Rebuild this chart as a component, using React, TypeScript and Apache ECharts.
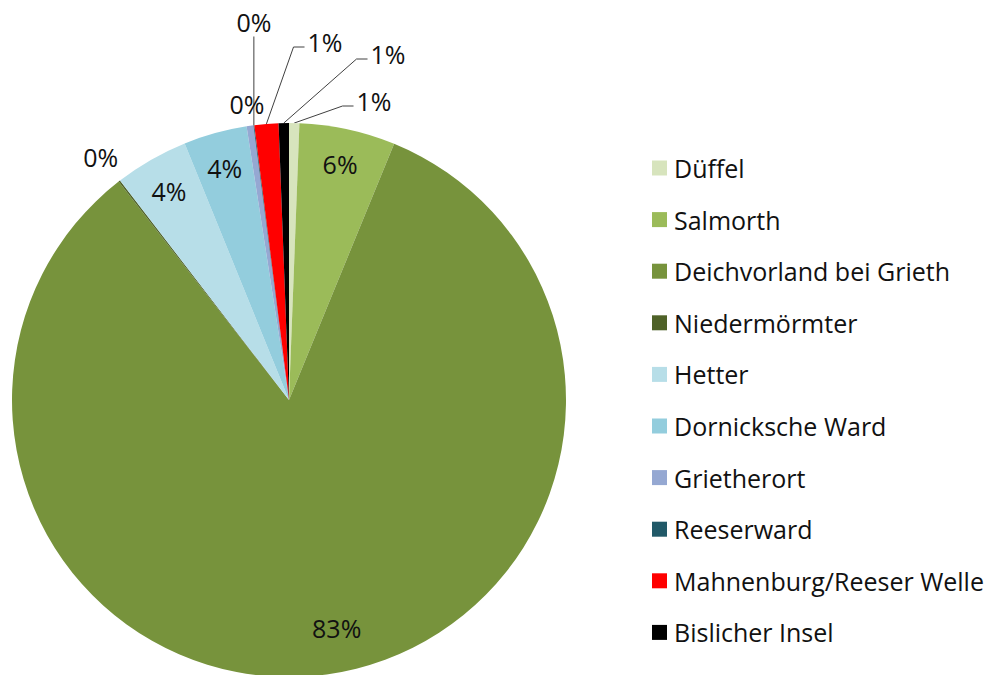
import React, { useEffect, useRef } from "react";
import * as echarts from "echarts";

const categories = [
  "Düffel",
  "Salmorth",
  "Deichvorland bei Grieth",
  "Niedermörmter",
  "Hetter",
  "Dornicksche Ward",
  "Grietherort",
  "Reeserward",
  "Mahnenburg/Reeser Welle",
  "Bislicher Insel",
];
const shares = [0.6, 5.6, 83.3, 0.1, 4.3, 3.7, 0.4, 0.05, 1.4, 0.6];
const colors = [
  "#d7e4bd",
  "#9bbb59",
  "#77933c",
  "#4f6228",
  "#b7dee8",
  "#93cddd",
  "#95a8d2",
  "#215968",
  "#ff0000",
  "#000000",
];

// label placement rules (layout, not data)
type Place =
  | { mode: "in"; f: number; da?: number }
  | { mode: "out"; f: number }
  | { mode: "lead"; dx: number; dy: number; vertical?: boolean };
const placement: Place[] = [
  { mode: "lead", dx: 85, dy: -299 },
  { mode: "in", f: 0.87 },
  { mode: "in", f: 0.84, da: -4 },
  { mode: "out", f: 1.11 },
  { mode: "in", f: 0.87 },
  { mode: "in", f: 0.87 },
  { mode: "out", f: 1.08 },
  { mode: "lead", dx: -35, dy: -378, vertical: true },
  { mode: "lead", dx: 36, dy: -358 },
  { mode: "lead", dx: 99, dy: -346 },
];

const CX = 289;
const CY = 400;
const R = 277;
const FONT = "Open Sans";

export default function App() {
  const ref = useRef<HTMLDivElement>(null);
  useEffect(() => {
    if (!ref.current) return;
    const chart = echarts.init(ref.current, undefined, { renderer: "svg" });
    const total = shares.reduce((a, b) => a + b, 0);
    const mids: number[] = [];
    let acc = 0;
    shares.forEach((v) => {
      mids.push(((acc + v / 2) / total) * 360);
      acc += v;
    });
    const pt = (angDeg: number, rad: number) => {
      const a = (angDeg * Math.PI) / 180;
      return [CX + rad * Math.sin(a), CY - rad * Math.cos(a)];
    };

    chart.setOption({
      animation: false,
      backgroundColor: "#ffffff",
      color: colors,
      legend: {
        orient: "vertical",
        left: 652,
        top: 155.5,
        padding: 0,
        itemWidth: 15,
        itemHeight: 15,
        itemGap: 26.6,
        icon: "rect",
        data: categories,
        textStyle: {
          fontFamily: FONT,
          fontSize: 25,
          color: "#111111",
          lineHeight: 24,
          padding: [0, 0, 0, 2],
        },
      },
      series: [
        {
          type: "pie",
          center: [CX, CY],
          radius: R,
          startAngle: 90,
          clockwise: true,
          avoidLabelOverlap: false,
          minShowLabelAngle: 0,
          itemStyle: { borderWidth: 0 },
          emphasis: { disabled: true },
          label: {
            show: true,
            position: "outside",
            fontFamily: FONT,
            fontSize: 25,
            color: "#111111",
            formatter: (p: any) => Math.round(p.percent) + "%",
          },
          labelLine: {
            show: true,
            lineStyle: { color: "#404040", width: 1 },
          },
          labelLayout: (params: any) => {
            const i = params.dataIndex;
            const pl = placement[i];
            const w = params.labelRect.width;
            const h = params.labelRect.height;
            if (pl.mode === "in") {
              const [x, y] = pt(mids[i] + (pl.da || 0), R * pl.f);
              return { x, y, align: "center", verticalAlign: "middle", labelLinePoints: [[x, y], [x, y], [x, y]] };
            }
            if (pl.mode === "out") {
              const [x, y] = pt(mids[i], R * pl.f);
              return { x, y, align: "center", verticalAlign: "middle", labelLinePoints: [[x, y], [x, y], [x, y]] };
            }
            const x = CX + pl.dx;
            const y = CY + pl.dy;
            const end = pt(mids[i], R);
            let pts;
            if (pl.vertical) {
              pts = [[end[0], y + h / 2 + 2], [end[0], y + h / 2 + 2], end];
            } else {
              const left = x - w / 2;
              pts = [[left - 3, y + 5], [left - 14, y + 5], end];
            }
            return { x, y, align: "center", verticalAlign: "middle", labelLinePoints: pts };
          },
          data: categories.map((name, i) => ({
            name,
            value: shares[i],
            labelLine: { show: placement[i].mode === "lead" },
          })),
        },
      ],
    });
    return () => chart.dispose();
  }, []);
  return (
    <div
      ref={ref}
      style={{ position: "absolute", left: 0, top: 0, width: 1001, height: 675 }}
    />
  );
}
